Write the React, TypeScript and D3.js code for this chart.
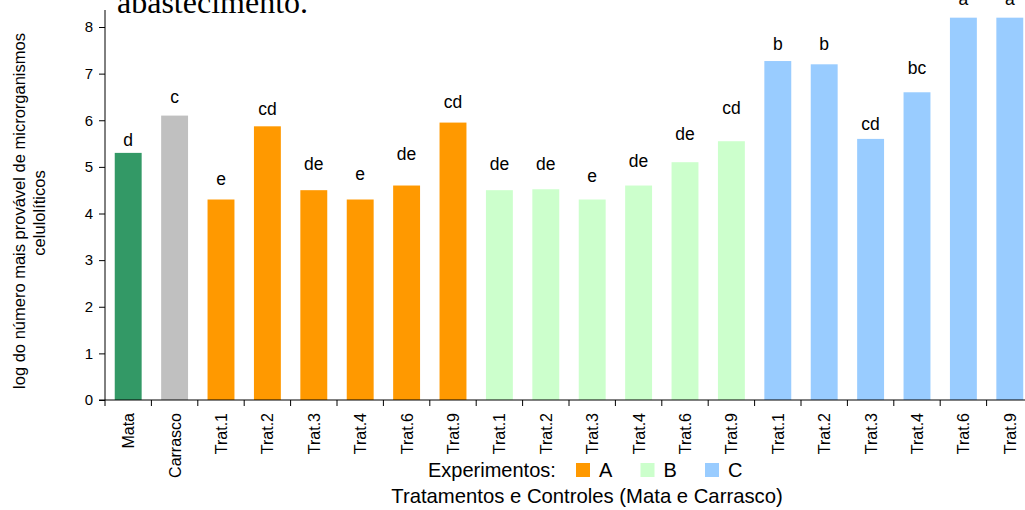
import React, { Component } from 'react';
import * as d3 from "d3";

// categories along the x axis (labels repeat, so keep an index key)
const labels = ["Mata", "Carrasco",
  "Trat.1", "Trat.2", "Trat.3", "Trat.4", "Trat.6", "Trat.9",
  "Trat.1", "Trat.2", "Trat.3", "Trat.4", "Trat.6", "Trat.9",
  "Trat.1", "Trat.2", "Trat.3", "Trat.4", "Trat.6", "Trat.9"];
const groups = ["Mata", "Carrasco", "A", "A", "A", "A", "A", "A",
  "B", "B", "B", "B", "B", "B", "C", "C", "C", "C", "C", "C"];
const values = [5.3, 6.1,
  4.3, 5.87, 4.5, 4.3, 4.6, 5.95,
  4.5, 4.52, 4.3, 4.6, 5.1, 5.55,
  7.27, 7.2, 5.6, 6.6, 8.2, 8.2];
const letters = ["d", "c", "e", "cd", "de", "e", "de", "cd",
  "de", "de", "e", "de", "de", "cd", "b", "b", "cd", "bc", "a", "a"];
// height (in y units) where each letter sits
const letterAt = [5.45, 6.37,
  4.61, 6.11, 4.93, 4.72, 5.15, 6.26,
  4.93, 4.93, 4.68, 5.0, 5.58, 6.13,
  7.51, 7.51, 5.79, 6.99, 8.47, 8.47];
const yTicks = [0, 1, 2, 3, 4, 5, 6, 7, 8];
const legendKeys = ["A", "B", "C"];

const colors: { [k: string]: string } = {
  Mata: "#339966", Carrasco: "#C0C0C0", A: "#FF9900", B: "#CCFFCC", C: "#99CCFF"
};

const FONT = "'Liberation Sans', Arial, sans-serif";

class Chart extends Component {
  componentDidMount() {
    this.renderChart();
  }
  renderChart() {
    const width = 1025, height = 510;
    d3.selectAll("#chart > *").remove();

    const svg = d3.select("#chart")
      .append("svg")
      .attr("width", width)
      .attr("height", height)
      .style("position", "absolute")
      .style("left", "0px")
      .style("top", "0px")
      .style("font-family", FONT);

    const x0 = 105, y0 = 400;
    const step = 46.4;
    const idx = labels.map((_, i) => String(i));

    const x = d3.scaleBand()
      .domain(idx)
      .range([x0, x0 + step * labels.length])
      .paddingInner(0.42)
      .paddingOuter(0.21);

    const y = d3.scaleLinear()
      .domain([0, 8])
      .range([y0, 27]);

    // leftover title text cut by the top edge
    svg.append("text")
      .attr("x", 117)
      .attr("y", 13)
      .attr("font-family", "'Liberation Serif', 'Times New Roman', serif")
      .attr("font-size", 32)
      .text("abastecimento.");

    // bars
    svg.append("g")
      .selectAll("rect")
      .data(values)
      .enter()
      .append("rect")
      .attr("x", (d, i) => x(String(i)) as number)
      .attr("y", d => y(d))
      .attr("width", x.bandwidth())
      .attr("height", d => y0 - y(d))
      .attr("fill", (d, i) => colors[groups[i]]);

    // significance letters
    svg.append("g")
      .selectAll("text")
      .data(letterAt)
      .enter()
      .append("text")
      .attr("x", (d, i) => (x(String(i)) as number) + x.bandwidth() / 2)
      .attr("y", d => y(d))
      .attr("text-anchor", "middle")
      .attr("font-size", 17.5)
      .text((d, i) => letters[i]);

    // y axis
    const yAxis = svg.append("g")
      .attr("transform", "translate(" + x0 + ",0)")
      .call(d3.axisLeft(y).tickValues(yTicks).tickSize(6).tickPadding(6).tickFormat(d3.format("d")));
    yAxis.select(".domain").attr("d", "M0," + y0 + "V10");
    yAxis.selectAll("text").attr("font-size", 15).attr("font-family", FONT).attr("fill", "#000");
    yAxis.selectAll("line").attr("stroke", "#000");

    // x axis: line plus ticks at band boundaries
    const xa = svg.append("g");
    xa.append("line")
      .attr("x1", x0 - 6).attr("x2", width)
      .attr("y1", y0).attr("y2", y0)
      .attr("stroke", "#000");
    xa.selectAll("line.tick")
      .data(d3.range(labels.length + 1))
      .enter()
      .append("line")
      .attr("class", "tick")
      .attr("x1", d => x0 + d * x.step())
      .attr("x2", d => x0 + d * x.step())
      .attr("y1", y0)
      .attr("y2", y0 + 6)
      .attr("stroke", "#000");
    xa.selectAll("text")
      .data(labels)
      .enter()
      .append("text")
      .attr("transform", (d, i) => "translate(" + ((x(String(i)) as number) + x.bandwidth() / 2 + 6) + "," + (y0 + 13) + ") rotate(-90)")
      .attr("text-anchor", "end")
      .attr("font-size", 16)
      .text(d => d);

    // y title, two lines
    svg.append("text")
      .attr("transform", "translate(25,211) rotate(-90)")
      .attr("text-anchor", "middle")
      .attr("font-size", 16.5)
      .text("log do número mais provável de microrganismos");
    svg.append("text")
      .attr("transform", "translate(45,213) rotate(-90)")
      .attr("text-anchor", "middle")
      .attr("font-size", 16.5)
      .text("celulolíticos");

    // legend
    svg.append("text")
      .attr("x", 428).attr("y", 477)
      .attr("font-size", 20)
      .text("Experimentos:");
    const lg = svg.append("g")
      .selectAll("g")
      .data(legendKeys)
      .enter()
      .append("g")
      .attr("transform", (d, i) => "translate(" + (576 + i * 64.5) + ",0)");
    lg.append("rect")
      .attr("x", 0).attr("y", 463)
      .attr("width", 14).attr("height", 14)
      .attr("fill", d => colors[d]);
    lg.append("text")
      .attr("x", 23).attr("y", 477)
      .attr("font-size", 20)
      .text(d => d);

    // x title
    svg.append("text")
      .attr("x", 587).attr("y", 503)
      .attr("text-anchor", "middle")
      .attr("font-size", 20.3)
      .text("Tratamentos e Controles (Mata e Carrasco)");
  }
  render() {
    return (<div id="chart"></div>);
  }
}

export default function App() {
  return <Chart />;
}
